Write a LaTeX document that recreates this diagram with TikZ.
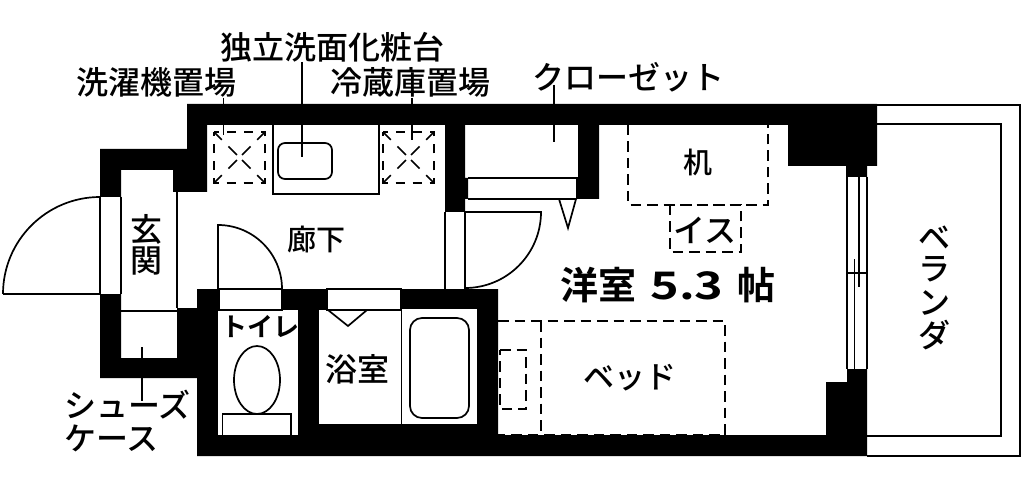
\documentclass[tikz,border=0pt]{standalone}
\usepackage{fontspec}
\setmainfont{Noto Sans CJK JP}
\newfontfamily\jpbold{Noto Sans CJK JP Bold}
\newfontfamily\jpmed{Noto Sans CJK JP Medium}
\usetikzlibrary{positioning}

\begin{document}
\begin{tikzpicture}[%
    x=1pt,
    y=-1pt,
    thinline/.style={line width=1.7pt},
    dash box/.style={line width=1.7pt,dash pattern=on 10.5pt off 6pt},
    machine box/.style={line width=1.7pt,dash pattern=on 9pt off 8pt,dash phase=4.5pt},
    machine cross/.style={line width=1.7pt,dash pattern=on 11pt off 9.5pt on 12pt off 20pt},
    wall/.style={fill=black,draw=none},
    room/.style={fill=white,draw=none},
    lbl/.style={inner sep=0pt,font=\fontsize{32}{32}\selectfont\jpmed},
    smalllbl/.style={inner sep=0pt,font=\fontsize{29}{29}\selectfont\jpmed}
  ]
    \useasboundingbox (0,0) rectangle (1024,486);

    % walls
    \fill[wall] (187,104) -- (877,104) -- (877,166) -- (867,166) -- (867,177) -- (846,177)
      -- (846,166) -- (788,166) -- (788,125) -- (599,125) -- (599,199) -- (576,199)
      -- (576,178) -- (578,178) -- (578,125) -- (465,125) -- (465,178) -- (468,178)
      -- (468,199) -- (465,199) -- (465,212) -- (445,212) -- (445,125) -- (207,125)
      -- (207,192) -- (173,192) -- (173,170) -- (121,170) -- (121,197) -- (100,197)
      -- (100,149) -- (187,149) -- cycle;
    \fill[wall] (100,294) -- (121,294) -- (121,358) -- (177,358) -- (177,308) -- (197,308)
      -- (197,289) -- (498,289) -- (498,435) -- (826,435) -- (826,382) -- (847,382)
      -- (847,369) -- (867,369) -- (867,456) -- (197,456) -- (197,378) -- (100,378) -- cycle;
    \fill[room] (218,310) rectangle (298,435);
    \fill[room] (319,310) rectangle (401,424);
    \fill[room] (402,309) rectangle (477,424);
    \draw[thinline,fill=white] (219,289) rectangle (282,310);
    \draw[thinline,fill=white] (327,289) rectangle (401,310);

    % entrance
    \draw[thinline] (100,197) -- (100,294);
    \draw[thinline] (121,197) -- (121,294);
    \draw[thinline] (177,192) -- (177,308);
    \draw[thinline] (121,311) -- (177,311);
    \draw[thinline] (3,294) -- (100,294);
    \draw[thinline] (3,294) arc (180:270:97);

    % balcony
    \draw[thinline] (877,105) -- (1020,105) -- (1020,456) -- (867,456);
    \draw[thinline] (877,124) -- (1001,124) -- (1001,436) -- (867,436);

    % window
    \draw[thinline] (847,177) -- (847,369);
    \draw[line width=2.4pt] (859,177) -- (859,287);
    \draw[thinline] (867,177) -- (867,369);
    \draw[thinline] (847,273) -- (867,273);
    \draw[thinline] (854.5,259) -- (854.5,369);

    % hall doors
    \draw[thinline] (218,289) -- (218,225) arc (270:360:64);
    \draw[thinline] (445,212) -- (445,289);
    \draw[thinline] (465,289) -- (465,212) -- (541,212) arc (0:90:76);

    % closet
    \draw[thinline] (468,178) -- (578,178);
    \draw[thinline] (468,199) -- (576,199);
    \draw[thinline] (559,199) -- (568,228) -- (576,199);

    % vanity and machines
    \draw[thinline] (273,125) -- (273,194) -- (379,194) -- (379,125);
    \draw[thinline,rounded corners=7pt] (278,143) rectangle (332,179);
    \foreach \mx in {214,383} {
      \draw[machine box] (\mx,132) rectangle ++(51,51);
      \foreach \cx/\cy in {0/0,51/0,0/51,51/51}
        \draw[machine cross] (\mx+\cx,132+\cy) -- (\mx+25.5,157.5);
    }

    % toilet and bath
    \draw[thinline] (257,380) ellipse (23 and 34);
    \draw[thinline] (222.5,435) -- (222.5,414) -- (291,414) -- (291,435);
    \draw[thinline] (328,310) -- (348,326) -- (367,310);
    \draw[thinline,rounded corners=12pt] (410,318) rectangle (469,418);

    % furniture
    \draw[dash box] (628,125) -- (628,205) -- (768,205) -- (768,125);
    \draw[dash box] (670,205) rectangle (741,252);
    \draw[dash box] (498,321) -- (725,321) -- (725,435) -- (498,435);
    \draw[dash box] (541,321) -- (541,435);
    \draw[dash box] (500,350) -- (526,350) -- (526,409) -- (500,409) -- cycle;

    % labels
    \node[lbl] (vanity) at (332,47) {独立洗面化粧台};
    \node[lbl] (washer) at (156,82) {洗濯機置場};
    \node[lbl] (fridge) at (410.5,82) {冷蔵庫置場};
    \node[lbl] (closet) at (628,77) {クローゼット};
    \node[smalllbl] (desk) at (698,162) {机};
    \node[lbl] (chair) at (705,230) {イス};
    \node[smalllbl] (hall) at (316,240) {廊下};
    \node[lbl] (entry1) at (146,229) {玄};
    \node[lbl] (entry2) [below=2pt of entry1] {関};
    \node[inner sep=0pt,font=\fontsize{26}{26}\selectfont\jpbold] (toilet) at (260,327) {トイレ};
    \node[lbl] (bath) at (357,369) {浴室};
    \node[lbl,anchor=west] (shoe1) at (64,405) {シューズ};
    \node[lbl,anchor=west] (shoe2) at (64,438) {ケース};
    \node[inner sep=0pt,font=\fontsize{38}{38}\selectfont\jpbold] (westroom) at (668,285)
      {洋室\hspace{14pt}\scalebox{1.28}[1]{5.3}\hspace{14pt}帖};
    \node[inner sep=0pt,font=\fontsize{31}{31}\selectfont\jpmed] (bed) at (630,378) {ベッド};
    \node[lbl] (bal1) at (934,238) {ベ};
    \node[lbl] (bal2) at (934,269) {ラ};
    \node[lbl] (bal3) at (934,303) {ン};
    \node[lbl] (bal4) at (934,335) {ダ};

    % leaders
    \coordinate (washertop) at (223.5,98);
    \coordinate (washerend) at (223.5,135);
    \coordinate (vanitytop) at (302,62);
    \coordinate (vanityend) at (302,157);
    \coordinate (fridgetop) at (412,98);
    \coordinate (fridgeend) at (412,140);
    \coordinate (closettop) at (554,85);
    \coordinate (closetend) at (554,142);
    \coordinate (shoetop) at (142,347);
    \coordinate (shoeend) at (142,401);
    \draw[thinline] (washertop) -- (washerend);
    \draw[thinline] (vanitytop) -- (vanityend);
    \draw[thinline] (fridgetop) -- (fridgeend);
    \draw[thinline] (closettop) -- (closetend);
    \draw[thinline] (shoetop) -- (shoeend);
\end{tikzpicture}
\end{document}
